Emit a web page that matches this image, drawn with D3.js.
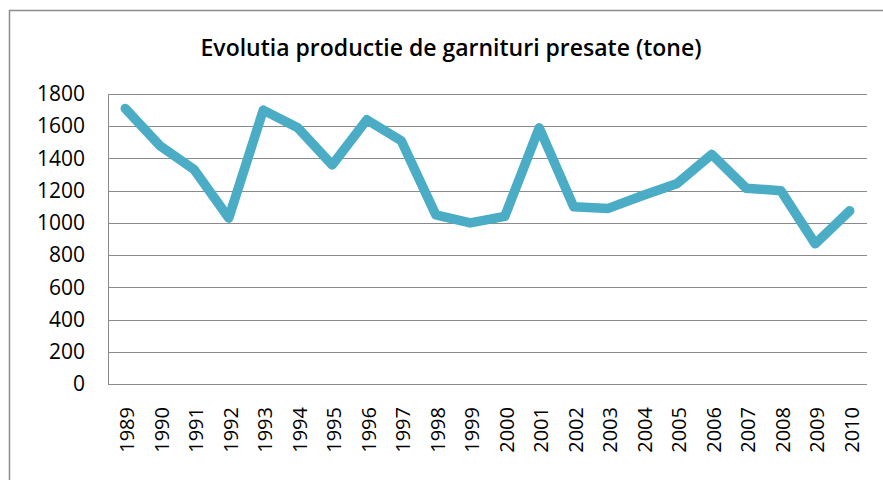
<!DOCTYPE html>
<html>
<head>
<meta charset="utf-8">
<script src="https://cdn.jsdelivr.net/npm/d3@7"></script>
<style>
  body { margin: 0; background: #fff; }
  svg { display: block; }
</style>
</head>
<body>
<svg class="js-chart"></svg>
<script>
// data
var years = ['1989', '1990', '1991', '1992', '1993', '1994', '1995', '1996', '1997', '1998', '1999',
             '2000', '2001', '2002', '2003', '2004', '2005', '2006', '2007', '2008', '2009', '2010'];
var production = [1710, 1480, 1330, 1030, 1700, 1590, 1360, 1640, 1510, 1050, 1000,
                  1040, 1590, 1100, 1090, 1170, 1245, 1425, 1215, 1200, 870, 1075];
var yTicks = [0, 200, 400, 600, 800, 1000, 1200, 1400, 1600, 1800];
var title = 'Evolutia productie de garnituri presate (tone)';

var width = 883, height = 480,
    margin = { top: 94, right: 16, bottom: 96, left: 108 };

var svg = d3.select('.js-chart')
    .attr('width', width)
    .attr('height', height);

// outer chart border (clipped at right / bottom like the screenshot)
svg.append('rect')
    .attr('x', 9.5).attr('y', 10.5)
    .attr('width', width + 20).attr('height', height + 20)
    .attr('fill', 'none')
    .attr('stroke', '#8c8c8c')
    .attr('stroke-width', 1.5);

svg.append('text')
    .attr('x', 451)
    .attr('y', 56)
    .attr('text-anchor', 'middle')
    .style('font-family', '"Open Sans", sans-serif')
    .style('font-size', '23px')
    .style('font-weight', 600)
    .attr('fill', '#000')
    .text(title);

var x = d3.scaleBand()
    .domain(years)
    .range([margin.left, width - margin.right]);

var y = d3.scaleLinear()
    .domain([0, 1800])
    .range([height - margin.bottom, margin.top]);

// gridlines
svg.append('g')
    .selectAll('line')
    .data(yTicks)
    .enter().append('line')
    .attr('x1', margin.left).attr('x2', width - margin.right)
    .attr('y1', function (d) { return Math.round(y(d)) + 0.5; })
    .attr('y2', function (d) { return Math.round(y(d)) + 0.5; })
    .attr('stroke', '#8a8a8a')
    .attr('stroke-width', 1);

// vertical axis line
svg.append('line')
    .attr('x1', margin.left + 0.5).attr('x2', margin.left + 0.5)
    .attr('y1', margin.top).attr('y2', height - margin.bottom)
    .attr('stroke', '#8a8a8a');

// y axis labels
var yAxis = svg.append('g')
    .attr('transform', 'translate(' + (margin.left - 23) + ',0)')
    .call(d3.axisLeft(y).tickValues(yTicks).tickFormat(d3.format('d')).tickSize(0).tickPadding(0));
yAxis.select('.domain').remove();
yAxis.selectAll('text')
    .style('font-family', '"Open Sans", sans-serif')
    .style('font-size', '21px')
    .attr('fill', '#000');

// x axis labels
var xAxis = svg.append('g')
    .attr('transform', 'translate(0,' + (height - margin.bottom) + ')')
    .call(d3.axisBottom(x).tickSize(0));
xAxis.select('.domain').remove();
xAxis.selectAll('text')
    .style('font-family', '"Open Sans", sans-serif')
    .style('font-size', '20px')
    .attr('fill', '#000')
    .attr('text-anchor', 'end')
    .attr('transform', 'rotate(-90)')
    .attr('x', -23)
    .attr('y', 2)
    .attr('dy', '0.35em');

// line
var line = d3.line()
    .x(function (d, i) { return x(years[i]) + x.bandwidth() / 2; })
    .y(function (d) { return y(d); });

svg.append('path')
    .datum(production)
    .attr('d', line)
    .attr('fill', 'none')
    .attr('stroke', '#4bacc6')
    .attr('stroke-width', 9.5)
    .attr('stroke-linejoin', 'round')
    .attr('stroke-linecap', 'round');
</script>
</body>
</html>
